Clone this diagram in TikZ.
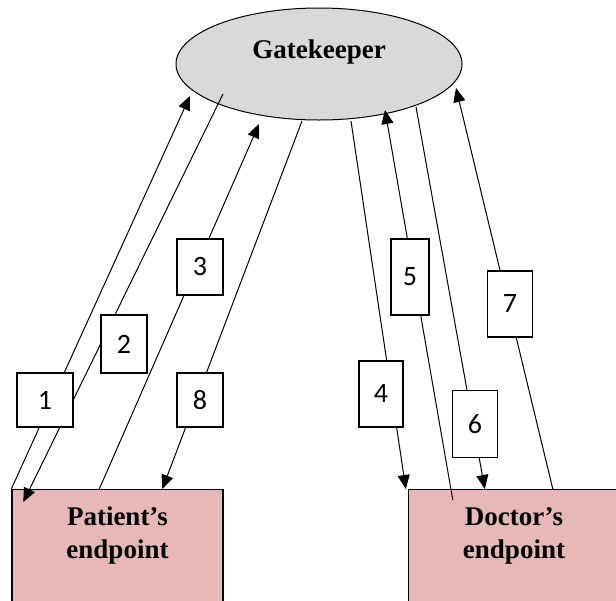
\documentclass[tikz,border=0pt]{standalone}
\usepackage{fontspec}
\setmainfont{Liberation Serif}
\newfontfamily\numfont{Carlito}
\usetikzlibrary{arrows.meta, shapes.geometric}
\definecolor{gatecolor}{RGB}{217,217,217}
\definecolor{endcolor}{RGB}{230,184,183}

\begin{document}
\begin{tikzpicture}[
    x=0.5pt, y=-0.5pt,
    gate/.style={draw, ellipse, fill=gatecolor, line width=0.5pt, minimum width=143pt, minimum height=56pt, inner sep=0pt, font=\fontsize{13.5}{16.5}\selectfont\bfseries, text height=9.2pt, text depth=15.2pt},
    endpoint/.style={draw, fill=endcolor, line width=0.7pt, anchor=north, minimum width=105.5pt, inner sep=8.8pt, align=center, font=\fontsize{13.5}{16.5}\selectfont\bfseries, text height=25.7pt, text depth=32pt},
    msgbox/.style={draw, fill=white, line width=0.7pt, inner sep=0pt, font=\numfont\fontsize{14}{16}\selectfont},
    arrow/.style={-{Triangle[length=7pt, width=6pt]}, line width=0.5pt}
]
    \useasboundingbox (0,0) rectangle (616,600);

    % Entities
    \node[gate] (gk) at (319,64) {Gatekeeper};
    \node[endpoint] (pat) at (117.5,489) {Patient’s\\endpoint};
    \node[endpoint] (doc) at (514,489) {Doctor’s\\endpoint};

    % Messages, patient side
    \draw[arrow] (pat.north west) -- ([shift={(-129,32)}]gk.center);
    \draw[arrow] ([shift={(-96,30)}]gk.center) -- ([shift={(12,13)}]pat.north west);
    \draw[arrow] ([shift={(88,0)}]pat.north west) -- ([shift={(-60,60)}]gk.center);
    \draw[arrow] ([shift={(-17,57)}]gk.center) -- ([shift={(151,0)}]pat.north west);

    % Messages, doctor side
    \draw[arrow] ([shift={(32,57)}]gk.center) -- ([shift={(-2,0)}]doc.north west);
    \draw[arrow] ([shift={(45,11)}]doc.north west) -- ([shift={(66,46)}]gk.center);
    \draw[arrow] ([shift={(97,43)}]gk.center) -- ([shift={(77,0)}]doc.north west);
    \draw[arrow] ([shift={(145,0)}]doc.north west) -- ([shift={(137,24)}]gk.center);

    % Step numbers
    \node[msgbox, minimum width=28pt, minimum height=27pt] (m1) at (45,400) {1};
    \node[msgbox, minimum width=23pt, minimum height=29pt] (m2) at (124,344) {2};
    \node[msgbox, minimum width=23pt, minimum height=28pt] (m3) at (200,267) {3};
    \node[msgbox, minimum width=22pt, minimum height=33pt] (m4) at (381,394) {4};
    \node[msgbox, minimum width=19pt, minimum height=38pt] (m5) at (410,277) {5};
    \node[msgbox, minimum width=22.5pt, minimum height=33.5pt] (m6) at (475,424) {6};
    \node[msgbox, minimum width=22.5pt, minimum height=33pt] (m7) at (510,304) {7};
    \node[msgbox, minimum width=23pt, minimum height=27pt] (m8) at (200,400) {8};
\end{tikzpicture}
\end{document}
